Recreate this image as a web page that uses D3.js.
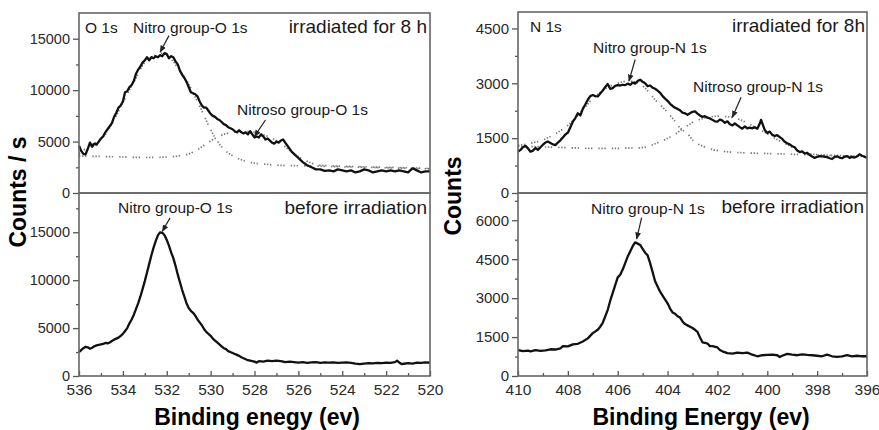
<!DOCTYPE html>
<html>
<head>
<meta charset="utf-8">
<script src="https://cdn.jsdelivr.net/npm/d3@7"></script>
<style>
  body { margin: 0; background: #fff; }
  svg { display: block; }
  text { font-family: "Liberation Sans", Arial, sans-serif; }
</style>
</head>
<body>
<svg id="xps" width="879" height="430"></svg>
<script>
// 坐标轴范围和刻度
const oEnergyRange = [536, 520];
const nEnergyRange = [410, 396];
const oEnergyTicks = [536, 534, 532, 530, 528, 526, 524, 522, 520];
const nEnergyTicks = [410, 408, 406, 404, 402, 400, 398, 396];
const oCountTicks = [0, 5000, 10000, 15000];
const nTopCountTicks = [0, 1500, 3000, 4500];
const nBottomCountTicks = [0, 1500, 3000, 4500, 6000];

// O 1s, 辐照8小时 [结合能, 计数]
const o1sIrradiated = [
  [536.0, 4600], [535.9, 4100], [535.8, 3800], [535.7, 3750], [535.6, 4300], [535.5, 4900], [535.4, 4500],
  [535.3, 4800], [535.2, 4700], [535.1, 5000], [535.0, 5300], [534.9, 5500], [534.8, 5900], [534.7, 6200],
  [534.6, 6500], [534.5, 6800], [534.4, 7400], [534.3, 7800], [534.2, 8300], [534.1, 8500], [534.0, 8900],
  [533.9, 9800], [533.8, 9900], [533.7, 10300], [533.6, 10500], [533.5, 10900], [533.4, 11600], [533.3, 12000],
  [533.2, 12300], [533.1, 12700], [533.0, 12900], [532.9, 13200], [532.8, 12900], [532.7, 13200], [532.6, 13100],
  [532.5, 13300], [532.4, 13200], [532.3, 13400], [532.2, 13300], [532.1, 13600], [532.0, 13500], [531.9, 13100],
  [531.8, 13300], [531.7, 13200], [531.6, 12800], [531.5, 12500], [531.4, 11900], [531.3, 11500], [531.2, 11200],
  [531.1, 10800], [531.0, 10300], [530.9, 9800], [530.8, 9700], [530.7, 9600], [530.6, 9400], [530.5, 8900],
  [530.4, 8500], [530.3, 8300], [530.2, 8300], [530.1, 8000], [530.0, 7700], [529.9, 7500], [529.8, 7400],
  [529.7, 7200], [529.6, 7100], [529.5, 6900], [529.4, 6700], [529.3, 6600], [529.2, 6400], [529.1, 6300],
  [529.0, 6200], [528.9, 6000], [528.8, 5900], [528.7, 6100], [528.6, 5900], [528.5, 5800], [528.4, 5900],
  [528.3, 5700], [528.2, 6000], [528.1, 5700], [528.0, 5400], [527.9, 5500], [527.8, 5400], [527.7, 5700],
  [527.6, 5500], [527.5, 5200], [527.4, 5300], [527.3, 5100], [527.2, 4900], [527.1, 4800], [527.0, 5000],
  [526.9, 4900], [526.8, 5100], [526.7, 5200], [526.6, 4900], [526.5, 4600], [526.4, 4300], [526.3, 4000],
  [526.2, 3800], [526.0, 3400], [525.8, 3000], [525.6, 2700], [525.4, 2500], [525.2, 2300], [525.0, 2300],
  [524.8, 2150], [524.6, 2200], [524.4, 2100], [524.2, 2300], [524.0, 2200], [523.8, 2100], [523.6, 2200],
  [523.4, 2000], [523.2, 2100], [523.0, 2300], [522.8, 2200], [522.6, 2000], [522.4, 2100], [522.2, 2200],
  [522.0, 2100], [521.8, 2200], [521.6, 2100], [521.4, 2200], [521.2, 2100], [521.0, 2000], [520.8, 2400],
  [520.6, 2200], [520.4, 2000], [520.2, 2100], [520.0, 2100]
];
const o1sNitroFit = [
  [536.0, 3800], [535.5, 4600], [535.0, 5200], [534.5, 6700], [534.0, 8800], [533.5, 10800], [533.0, 12700],
  [532.5, 13400], [532.2, 13600], [532.0, 13400], [531.5, 12200], [531.0, 10600], [530.7, 9300], [530.4, 8000],
  [530.1, 6600], [529.8, 5400], [529.5, 4500], [529.2, 3900], [528.8, 3400], [528.4, 3100], [528.0, 2900],
  [527.5, 2800], [527.0, 2700], [526.0, 2650], [525.0, 2600], [524.0, 2550], [523.0, 2500], [522.0, 2450],
  [521.0, 2400], [520.0, 2350]
];
const o1sNitrosoFit = [
  [536.0, 3600], [535.0, 3550], [534.0, 3500], [533.0, 3450], [532.0, 3500], [531.5, 3600], [531.0, 3800],
  [530.6, 4200], [530.2, 4800], [529.8, 5300], [529.4, 5700], [529.0, 5900], [528.5, 6000], [528.0, 5900],
  [527.5, 5600], [527.0, 5100], [526.6, 4500], [526.2, 3800], [525.8, 3300], [525.4, 2900], [525.0, 2700],
  [524.0, 2600], [523.0, 2550], [522.0, 2500], [521.0, 2450], [520.0, 2400]
];

// O 1s, 辐照前
const o1sBefore = [
  [536.0, 2500], [535.9, 2700], [535.8, 2900], [535.7, 3050], [535.6, 3000], [535.5, 2850], [535.4, 2950],
  [535.3, 3100], [535.2, 3200], [535.1, 3250], [535.0, 3300], [534.9, 3350], [534.8, 3450], [534.7, 3400],
  [534.6, 3500], [534.5, 3650], [534.4, 3800], [534.3, 3900], [534.2, 4000], [534.1, 4200], [534.0, 4400],
  [533.9, 4700], [533.8, 5000], [533.7, 5500], [533.6, 5900], [533.5, 6400], [533.4, 7000], [533.3, 7600],
  [533.2, 8300], [533.1, 9100], [533.0, 9900], [532.9, 10800], [532.8, 11700], [532.7, 12600], [532.6, 13400],
  [532.5, 14100], [532.4, 14700], [532.3, 15000], [532.2, 14950], [532.1, 14700], [532.0, 14200], [531.9, 13600],
  [531.8, 12900], [531.7, 12300], [531.6, 11500], [531.5, 10600], [531.4, 9800], [531.3, 9000], [531.2, 8300],
  [531.1, 7600], [531.0, 7100], [530.9, 6800], [530.8, 6600], [530.7, 6300], [530.6, 5900], [530.5, 5600],
  [530.4, 5300], [530.3, 4900], [530.2, 4600], [530.1, 4400], [530.0, 4200], [529.9, 3900], [529.8, 3700],
  [529.7, 3500], [529.6, 3300], [529.5, 3100], [529.4, 2900], [529.3, 2800], [529.2, 2600], [529.1, 2500],
  [529.0, 2400], [528.9, 2300], [528.8, 2200], [528.7, 2100], [528.6, 1950], [528.5, 1850], [528.4, 1750],
  [528.3, 1650], [528.2, 1600], [528.0, 1500], [527.9, 1400], [527.8, 1550], [527.6, 1500], [527.4, 1600],
  [527.2, 1550], [527.0, 1600], [526.8, 1550], [526.6, 1450], [526.4, 1500], [526.2, 1450], [526.0, 1400],
  [525.8, 1450], [525.6, 1380], [525.4, 1420], [525.2, 1450], [525.0, 1380], [524.8, 1420], [524.6, 1400],
  [524.4, 1430], [524.2, 1380], [524.0, 1400], [523.8, 1420], [523.6, 1380], [523.4, 1300], [523.2, 1250],
  [523.0, 1300], [522.8, 1350], [522.6, 1320], [522.4, 1380], [522.2, 1350], [522.0, 1400], [521.8, 1380],
  [521.6, 1450], [521.5, 1600], [521.4, 1400], [521.3, 1250], [521.2, 1280], [521.0, 1350], [520.8, 1300],
  [520.6, 1400], [520.4, 1380], [520.2, 1420], [520.0, 1400]
];

// N 1s, 辐照8小时
const n1sIrradiated = [
  [410.0, 1130], [409.9, 1180], [409.8, 1250], [409.7, 1290], [409.6, 1220], [409.5, 1130], [409.4, 1160],
  [409.3, 1230], [409.2, 1180], [409.1, 1250], [409.0, 1320], [408.9, 1380], [408.8, 1410], [408.7, 1370],
  [408.6, 1330], [408.5, 1310], [408.4, 1380], [408.3, 1440], [408.2, 1520], [408.1, 1600], [408.0, 1650],
  [407.9, 1800], [407.8, 1950], [407.7, 2050], [407.6, 2180], [407.5, 2120], [407.4, 2300], [407.3, 2420],
  [407.2, 2550], [407.1, 2650], [407.0, 2680], [406.9, 2650], [406.8, 2640], [406.7, 2720], [406.6, 2800],
  [406.5, 2900], [406.4, 2980], [406.3, 2850], [406.2, 2870], [406.1, 2930], [406.0, 2950], [405.9, 2940],
  [405.8, 2960], [405.7, 2950], [405.6, 2990], [405.5, 2960], [405.4, 3020], [405.3, 2990], [405.2, 3060],
  [405.1, 3100], [405.0, 3040], [404.9, 3000], [404.8, 2920], [404.7, 2940], [404.6, 2880], [404.5, 2850],
  [404.4, 2800], [404.3, 2740], [404.2, 2650], [404.1, 2580], [404.0, 2520], [403.9, 2440], [403.8, 2380],
  [403.7, 2330], [403.6, 2300], [403.5, 2260], [403.4, 2200], [403.3, 2180], [403.2, 2140], [403.1, 2180],
  [403.0, 2220], [402.9, 2230], [402.8, 2170], [402.7, 2120], [402.6, 2080], [402.5, 2100], [402.4, 2060],
  [402.3, 2040], [402.2, 2000], [402.1, 1960], [402.0, 1950], [401.9, 2010], [401.8, 1980], [401.7, 1920],
  [401.6, 1960], [401.5, 1880], [401.4, 1850], [401.3, 1900], [401.2, 1850], [401.1, 1800], [401.0, 1760],
  [400.9, 1820], [400.8, 1770], [400.7, 1790], [400.6, 1770], [400.5, 1800], [400.4, 1760], [400.3, 1900],
  [400.25, 2000], [400.1, 1720], [400.0, 1640], [399.9, 1680], [399.8, 1590], [399.7, 1560], [399.6, 1580],
  [399.5, 1530], [399.4, 1480], [399.3, 1400], [399.2, 1360], [399.1, 1330], [399.0, 1280], [398.9, 1250],
  [398.8, 1160], [398.7, 1120], [398.6, 1140], [398.5, 1080], [398.4, 1100], [398.3, 1040], [398.2, 1000],
  [398.1, 960], [398.0, 990], [397.9, 1010], [397.8, 1000], [397.6, 980], [397.5, 950], [397.4, 930],
  [397.3, 990], [397.2, 1000], [397.1, 970], [397.0, 950], [396.9, 990], [396.8, 1010], [396.7, 960],
  [396.6, 990], [396.5, 970], [396.4, 1000], [396.3, 1060], [396.2, 1020], [396.1, 990], [396.0, 960]
];
const n1sNitroFit = [
  [410.0, 1300], [409.5, 1360], [409.0, 1450], [408.5, 1620], [408.0, 1850], [407.5, 2200], [407.0, 2580],
  [406.5, 2850], [406.0, 3000], [405.6, 3060], [405.2, 3020], [404.9, 2870], [404.5, 2550], [404.1, 2280],
  [403.75, 2000], [403.5, 1780], [403.2, 1620], [402.95, 1420], [402.55, 1270], [402.15, 1180], [401.65, 1130],
  [401.0, 1100], [400.0, 1080], [399.0, 1060], [398.0, 1040], [397.0, 1020], [396.0, 1000]
];
const n1sNitrosoFit = [
  [410.0, 1280], [409.0, 1260], [408.0, 1240], [407.0, 1220], [406.0, 1220], [405.5, 1230], [405.0, 1240],
  [404.45, 1360], [404.1, 1460], [403.75, 1590], [403.35, 1770], [402.95, 1950], [402.5, 2050], [402.0, 2100],
  [401.5, 2080], [401.0, 1980], [400.5, 1800], [400.0, 1620], [399.5, 1420], [399.0, 1250], [398.7, 1130],
  [398.4, 1080], [398.0, 1050], [397.0, 1020], [396.0, 1000]
];

// N 1s, 辐照前
const n1sBefore = [
  [410.0, 1000], [409.8, 960], [409.6, 980], [409.5, 950], [409.3, 1000], [409.1, 970], [408.9, 990],
  [408.7, 1030], [408.5, 1020], [408.3, 1060], [408.2, 1150], [408.0, 1140], [407.8, 1220], [407.6, 1240],
  [407.4, 1330], [407.2, 1450], [407.0, 1650], [406.8, 1780], [406.7, 1900], [406.6, 2050], [406.5, 2300],
  [406.4, 2550], [406.3, 2900], [406.2, 3200], [406.1, 3500], [406.0, 3800], [405.9, 3900], [405.8, 4100],
  [405.7, 4350], [405.6, 4600], [405.5, 4800], [405.4, 5000], [405.3, 5150], [405.2, 5100], [405.1, 5050],
  [405.0, 4900], [404.9, 4750], [404.8, 4650], [404.7, 4350], [404.6, 4000], [404.5, 3650], [404.4, 3450],
  [404.3, 3250], [404.2, 3100], [404.0, 2800], [403.9, 2600], [403.8, 2450], [403.7, 2400], [403.6, 2300],
  [403.5, 2250], [403.4, 2100], [403.3, 2000], [403.2, 1950], [403.0, 1850], [402.9, 1780], [402.8, 1700],
  [402.7, 1480], [402.6, 1300], [402.5, 1280], [402.4, 1250], [402.3, 1150], [402.2, 1150], [402.0, 1100],
  [401.9, 1000], [401.8, 950], [401.6, 880], [401.4, 860], [401.2, 900], [401.0, 880], [400.8, 900],
  [400.6, 820], [400.4, 760], [400.2, 800], [400.0, 810], [399.8, 820], [399.6, 800], [399.5, 730],
  [399.4, 780], [399.2, 850], [399.0, 820], [398.8, 800], [398.6, 830], [398.4, 810], [398.2, 800],
  [398.0, 780], [397.8, 760], [397.6, 820], [397.4, 760], [397.2, 740], [397.0, 760], [396.8, 800],
  [396.6, 760], [396.4, 780], [396.2, 760], [396.0, 760]
];

const svg = d3.select("#xps");

// 箭头标记
svg.append("defs").append("marker")
  .attr("id", "arrow")
  .attr("viewBox", "0 0 10 10")
  .attr("refX", 9).attr("refY", 5)
  .attr("markerWidth", 6).attr("markerHeight", 6)
  .attr("orient", "auto")
  .append("path")
  .attr("d", "M0,1 L10,5 L0,9 Z")
  .attr("fill", "#222");

// 四个面板: 左列 O 1s, 右列 N 1s; 上为辐照8h, 下为辐照前
const panels = [
  {
    left: 79, right: 430, top: 13, bottom: 193,
    xDomain: oEnergyRange, xTicks: oEnergyTicks, yMax: 17500, yTicks: oCountTicks, yFont: 14.5,
    showX: false, spectrum: o1sIrradiated, fits: [o1sNitroFit, o1sNitrosoFit],
    labels: [
      { text: "O 1s", x: 85, y: 33, size: 15.5 },
      { text: "Nitro group-O 1s", x: 133, y: 33, size: 15.5 },
      { text: "irradiated for 8 h", x: 427, y: 33, size: 19, anchor: "end" },
      { text: "Nitroso group-O 1s", x: 237, y: 115, size: 15.5 }
    ],
    arrows: [[[531.9, 15300], [532.3, 13700]], [[527.5, 7100], [528.0, 5500]]]
  },
  {
    left: 79, right: 430, top: 193, bottom: 376,
    xDomain: oEnergyRange, xTicks: oEnergyTicks, yMax: 19100, yTicks: oCountTicks, yFont: 14.5,
    showX: true, spectrum: o1sBefore, fits: [],
    labels: [
      { text: "Nitro group-O 1s", x: 118, y: 213, size: 15.5 },
      { text: "before irradiation", x: 427, y: 214, size: 19, anchor: "end" }
    ],
    arrows: [[[531.85, 16500], [532.2, 15100]]]
  },
  {
    left: 518, right: 867, top: 12, bottom: 193,
    xDomain: nEnergyRange, xTicks: nEnergyTicks, yMax: 4950, yTicks: nTopCountTicks, yFont: 15,
    showX: false, spectrum: n1sIrradiated, fits: [n1sNitroFit, n1sNitrosoFit],
    labels: [
      { text: "N 1s", x: 530, y: 32, size: 15.5 },
      { text: "irradiated for 8h", x: 865, y: 32, size: 19, anchor: "end" },
      { text: "Nitro group-N 1s", x: 593, y: 53, size: 15.5 },
      { text: "Nitroso group-N 1s", x: 693, y: 92, size: 15.5 }
    ],
    arrows: [[[405.3, 3650], [405.55, 3060]], [[401.05, 2620], [401.4, 2070]]]
  },
  {
    left: 518, right: 867, top: 193, bottom: 376,
    xDomain: nEnergyRange, xTicks: nEnergyTicks, yMax: 7050, yTicks: nBottomCountTicks, yFont: 15,
    showX: true, spectrum: n1sBefore, fits: [],
    labels: [
      { text: "Nitro group-N 1s", x: 591, y: 214, size: 15.5 },
      { text: "before irradiation", x: 864, y: 213, size: 19, anchor: "end" }
    ],
    arrows: [[[405.04, 6100], [405.24, 5280]]]
  }
];

panels.forEach(p => {
  const x = d3.scaleLinear().domain(p.xDomain).range([p.left, p.right]);
  const y = d3.scaleLinear().domain([0, p.yMax]).range([p.bottom, p.top]);
  const g = svg.append("g");

  // y 轴: 主刻度和次刻度都朝外
  const step = p.yTicks[1] - p.yTicks[0];
  const minor = d3.range(step / 2, p.yMax, step).filter(v => y(v) > p.top + 3);
  const yAxis = g.append("g")
    .attr("transform", `translate(${p.left},0)`)
    .call(d3.axisLeft(y).tickValues(p.yTicks).tickSize(6).tickPadding(3).tickFormat(d3.format("d")));
  yAxis.select(".domain").remove();
  yAxis.selectAll("line").attr("stroke", "#555").attr("stroke-width", 1.3);
  yAxis.selectAll("text").attr("font-size", p.yFont).attr("fill", "#2a2a2a")
    .attr("font-family", "'Liberation Sans', Arial, sans-serif");
  const yMinor = g.append("g")
    .attr("transform", `translate(${p.left},0)`)
    .call(d3.axisLeft(y).tickValues(minor).tickSize(3).tickFormat(""));
  yMinor.select(".domain").remove();
  yMinor.selectAll("line").attr("stroke", "#555").attr("stroke-width", 1.3);

  // x 轴: 刻度朝内, 只在下方面板显示
  if (p.showX) {
    const xAxis = g.append("g")
      .attr("transform", `translate(0,${p.bottom})`)
      .call(d3.axisBottom(x).tickValues(p.xTicks).tickSize(-5).tickPadding(8).tickFormat(d3.format("d")));
    xAxis.select(".domain").remove();
    xAxis.selectAll("line").attr("stroke", "#555").attr("stroke-width", 1.3);
    xAxis.selectAll("text").attr("font-size", 15.5).attr("fill", "#2a2a2a")
      .attr("font-family", "'Liberation Sans', Arial, sans-serif");
    const xMinor = p.xTicks.slice(1).map((t, i) => (t + p.xTicks[i]) / 2);
    const xm = g.append("g")
      .attr("transform", `translate(0,${p.bottom})`)
      .call(d3.axisBottom(x).tickValues(xMinor).tickSize(-3).tickFormat(""));
    xm.select(".domain").remove();
    xm.selectAll("line").attr("stroke", "#555").attr("stroke-width", 1.3);
  }

  const line = d3.line().x(d => x(d[0])).y(d => y(d[1]));

  // 拟合分峰 (点线)
  p.fits.forEach(f => {
    g.append("path")
      .datum(f)
      .attr("d", line.curve(d3.curveMonotoneX))
      .attr("fill", "none")
      .attr("stroke", "#7a7a7a")
      .attr("stroke-width", 1.7)
      .attr("stroke-dasharray", "1.4 1.6 1.4 1.6 1.4 6");
  });

  // 实测谱线
  g.append("path")
    .datum(p.spectrum)
    .attr("d", line.curve(d3.curveLinear))
    .attr("fill", "none")
    .attr("stroke", "#111")
    .attr("stroke-width", 2.3)
    .attr("stroke-linejoin", "round");

  // 边框
  g.append("rect")
    .attr("x", p.left).attr("y", p.top)
    .attr("width", p.right - p.left).attr("height", p.bottom - p.top)
    .attr("fill", "none").attr("stroke", "#666").attr("stroke-width", 1.6);

  // 标注文字
  p.labels.forEach(l => {
    g.append("text")
      .attr("x", l.x).attr("y", l.y)
      .attr("text-anchor", l.anchor || "start")
      .attr("font-size", l.size)
      .attr("fill", "#1a1a1a")
      .text(l.text);
  });

  // 标注箭头
  p.arrows.forEach(a => {
    g.append("line")
      .attr("x1", x(a[0][0])).attr("y1", y(a[0][1]))
      .attr("x2", x(a[1][0])).attr("y2", y(a[1][1]))
      .attr("stroke", "#222").attr("stroke-width", 1.2)
      .attr("marker-end", "url(#arrow)");
  });
});

// 坐标轴标题
svg.append("text")
  .attr("transform", "translate(26,192) rotate(-90)")
  .attr("text-anchor", "middle")
  .attr("font-size", 23).attr("font-weight", "bold")
  .text("Counts / s");
svg.append("text")
  .attr("transform", "translate(461,196) rotate(-90)")
  .attr("text-anchor", "middle")
  .attr("font-size", 23).attr("font-weight", "bold")
  .text("Counts");
svg.append("text")
  .attr("x", 257).attr("y", 425)
  .attr("text-anchor", "middle")
  .attr("font-size", 23).attr("font-weight", "bold")
  .text("Binding enegy (ev)");
svg.append("text")
  .attr("x", 701).attr("y", 425)
  .attr("text-anchor", "middle")
  .attr("font-size", 23).attr("font-weight", "bold")
  .text("Binding Energy (ev)");
</script>
</body>
</html>
